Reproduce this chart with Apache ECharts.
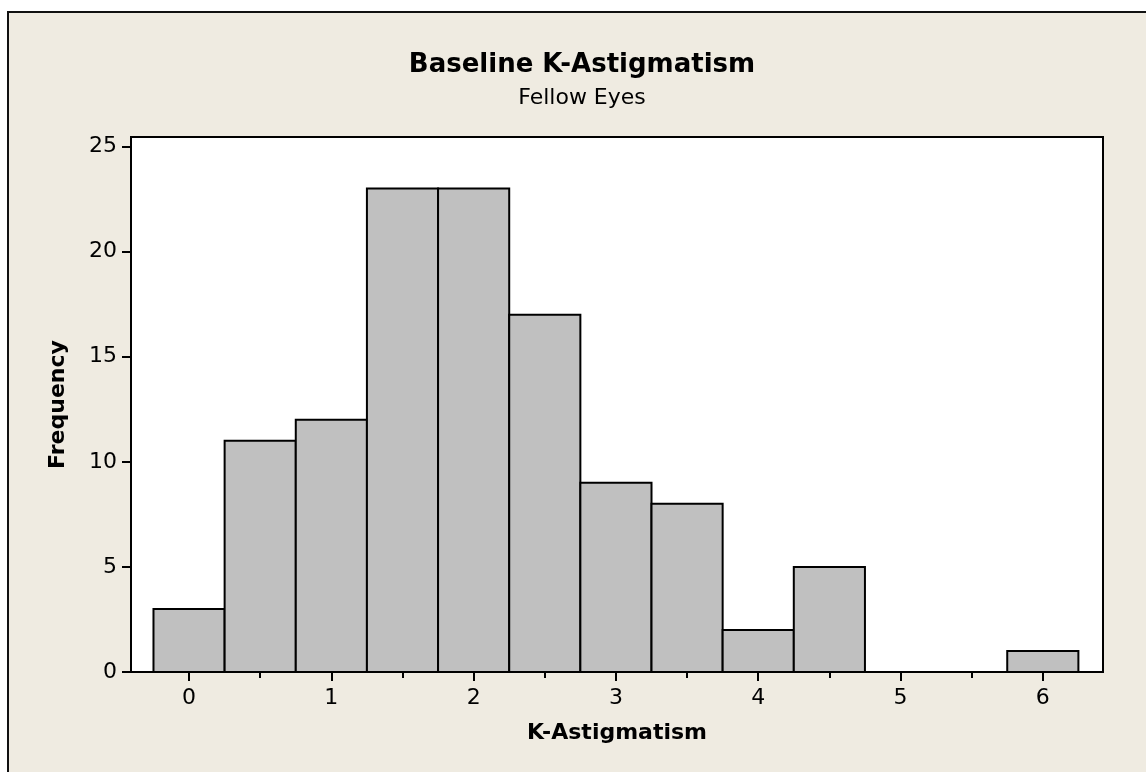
<!DOCTYPE html>
<html>
<head>
<meta charset="utf-8">
<script src="https://cdn.jsdelivr.net/npm/echarts@6/dist/echarts.min.js"></script>
<style>
  html, body { margin: 0; padding: 0; background: #ffffff; }
  #frame { position: absolute; left: 7px; top: 11px; width: 1139px; height: 761px;
           background: #EFEBE1; border-top: 2px solid #111; border-left: 2px solid #111; box-sizing: border-box; }
  #chart { position: absolute; left: 0; top: 0; width: 1146px; height: 772px; }
</style>
</head>
<body>
<div id="frame"></div>
<div id="chart"></div>
<script>
// ---- data ----
const binCenters = [0, 0.5, 1, 1.5, 2, 2.5, 3, 3.5, 4, 4.5, 5, 5.5, 6];
const frequencies = [3, 11, 12, 23, 23, 17, 9, 8, 2, 5, 0, 0, 1];
const binWidth = 0.5;
const xMajorTicks = [0, 1, 2, 3, 4, 5, 6];
const xMinorTicks = [0.5, 1.5, 2.5, 3.5, 4.5, 5.5];
const yTicks = [0, 5, 10, 15, 20, 25];
const titleText = 'Baseline K-Astigmatism';
const subtitleText = 'Fellow Eyes';
const xName = 'K-Astigmatism';
const yName = 'Frequency';

const histData = binCenters.map((c, i) => [c - binWidth / 2, c + binWidth / 2, frequencies[i]]);

const FONT = '"DejaVu Sans", sans-serif';
const chart = echarts.init(document.getElementById('chart'), null, { renderer: 'canvas' });

const xMin = -0.408, xMax = 6.423;

chart.setOption({
  backgroundColor: 'transparent',
  animation: false,
  title: [
    { text: titleText, left: 582, top: 52, textAlign: 'center', padding: 0,
      textStyle: { fontFamily: FONT, fontSize: 26, fontWeight: 'bold', color: '#000' } },
    { text: subtitleText, left: 582, top: 87, textAlign: 'center', padding: 0,
      textStyle: { fontFamily: FONT, fontSize: 22, fontWeight: 'normal', color: '#000' } }
  ],
  grid: {
    left: 131, right: 43, top: 137, bottom: 100,
    show: true, backgroundColor: '#ffffff', borderColor: '#000', borderWidth: 2,
    containLabel: false
  },
  xAxis: [
    {
      type: 'value', min: xMin, max: xMax, position: 'bottom',
      name: xName, nameLocation: 'middle', nameGap: 50,
      nameTextStyle: { fontFamily: FONT, fontSize: 22, fontWeight: 'bold', color: '#000' },
      axisLine: { show: false, onZero: false },
      splitLine: { show: false },
      axisTick: { show: true, customValues: xMajorTicks, length: 9, lineStyle: { color: '#000', width: 2 } },
      axisLabel: { show: true, customValues: xMajorTicks, margin: 15, fontFamily: FONT, fontSize: 22, color: '#000' }
    },
    {
      type: 'value', min: xMin, max: xMax, position: 'bottom', offset: 0,
      axisLine: { show: false, onZero: false },
      splitLine: { show: false },
      axisTick: { show: true, customValues: xMinorTicks, length: 6, lineStyle: { color: '#000', width: 2 } },
      axisLabel: { show: false }
    }
  ],
  yAxis: {
    type: 'value', min: 0, max: 25.45, position: 'left',
    name: yName, nameLocation: 'middle', nameGap: 62,
    nameTextStyle: { fontFamily: FONT, fontSize: 22, fontWeight: 'bold', color: '#000' },
    axisLine: { show: false, onZero: false },
    splitLine: { show: false },
    axisTick: { show: true, customValues: yTicks, length: 9, lineStyle: { color: '#000', width: 2 } },
    axisLabel: { show: true, customValues: yTicks, margin: 14, fontFamily: FONT, fontSize: 22, color: '#000' }
  },
  series: [{
    type: 'custom',
    xAxisIndex: 0, yAxisIndex: 0,
    data: histData,
    encode: { x: [0, 1], y: 2 },
    clip: true,
    renderItem: function (params, api) {
      const x0 = api.value(0), x1 = api.value(1), y = api.value(2);
      const p0 = api.coord([x0, 0]);
      const p1 = api.coord([x1, y]);
      return {
        type: 'rect',
        shape: { x: p0[0], y: p1[1], width: p1[0] - p0[0], height: p0[1] - p1[1] },
        style: { fill: '#C0C0C0', stroke: '#000', lineWidth: 2 }
      };
    }
  }]
});
</script>
</body>
</html>
